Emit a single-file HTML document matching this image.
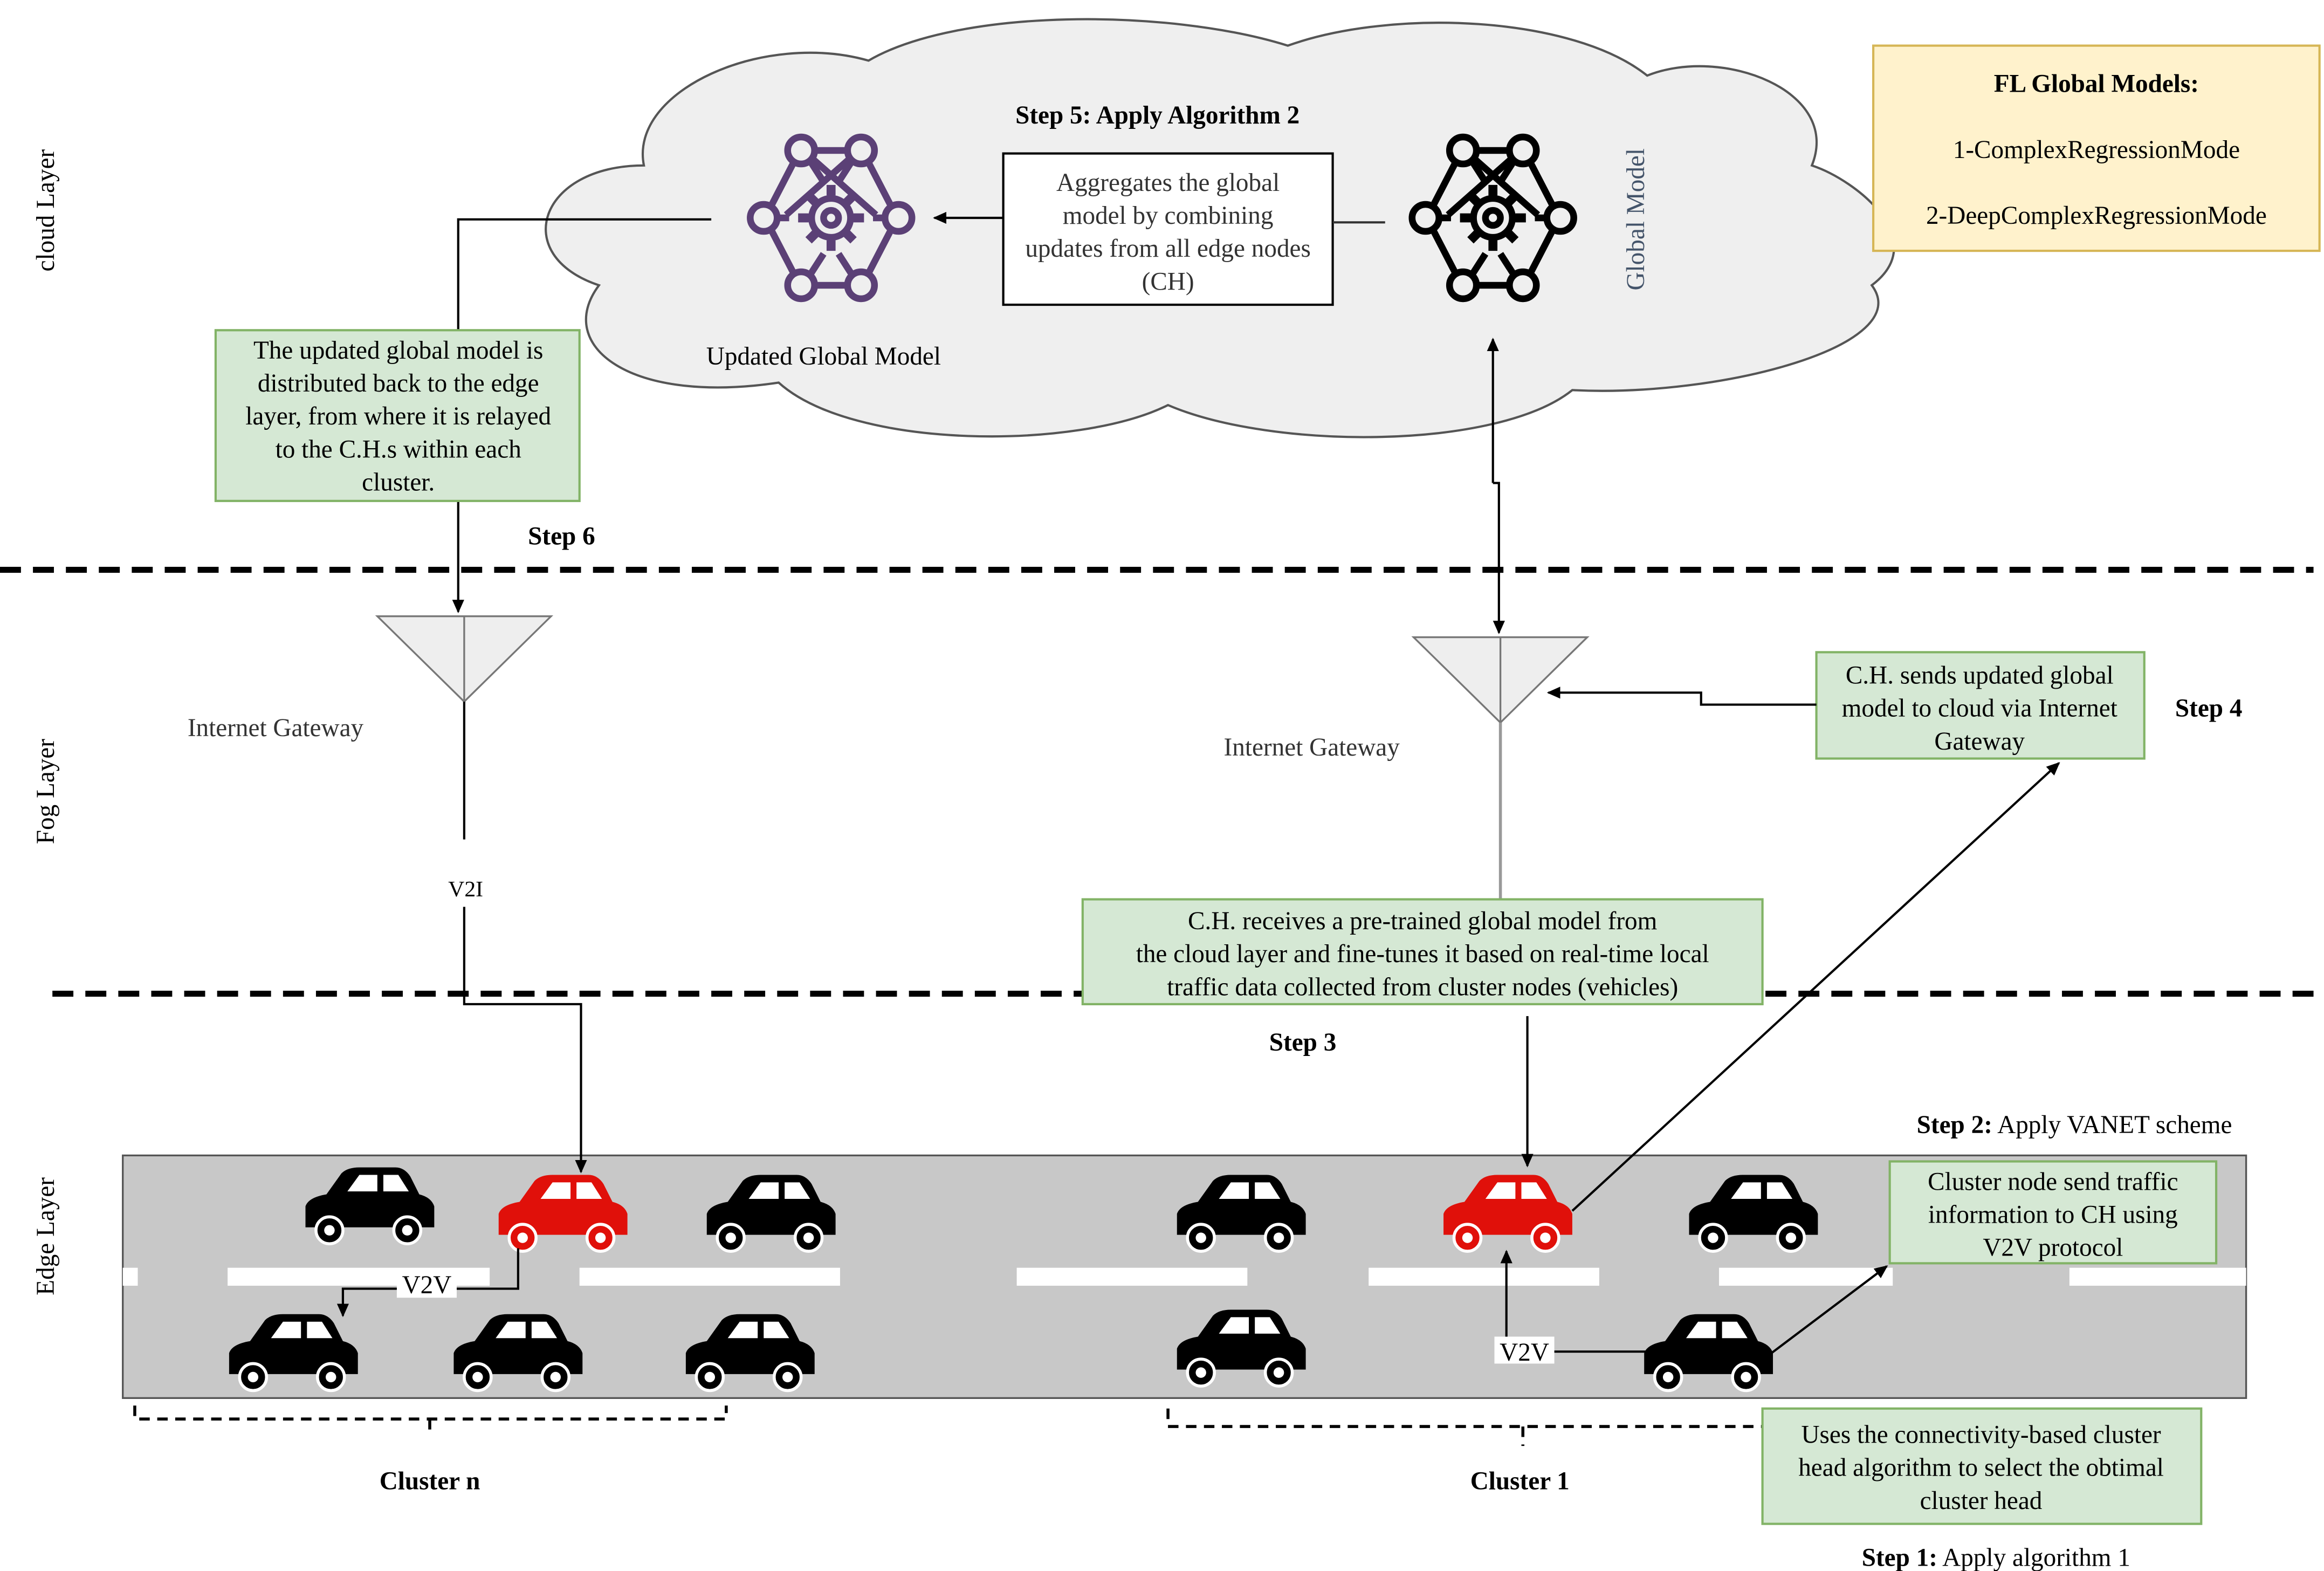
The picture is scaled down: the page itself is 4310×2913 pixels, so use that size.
<!DOCTYPE html>
<html><head><meta charset="utf-8"><style>
html,body{margin:0;padding:0;background:#fff;}
svg{display:block;}
text{font-family:"Liberation Serif",serif;}
</style></head><body>
<svg width="4310" height="2913" viewBox="0 0 1552 1048" xmlns="http://www.w3.org/2000/svg">
<defs>
<marker id="ar" markerWidth="10" markerHeight="10" refX="8" refY="5" orient="auto" markerUnits="userSpaceOnUse">
<path d="M0,1 L9,5 L0,9 Z" fill="#000"/></marker>
<g id="car">
<path d="M-42,14 L-42,0 Q-40,-6 -28,-8 L-18,-22 Q-14,-26 -6,-26 L18,-26 Q24,-26 28,-20 L34,-8 Q42,-6 44,0 L44,14 Z" fill="currentColor"/>
<path d="M-14,-10 L-6,-21 L6,-21 L6,-10 Z M10,-10 L10,-21 L20,-21 L27,-10 Z" fill="#fff"/>
<circle cx="-26" cy="16" r="9" fill="currentColor" stroke="#fff" stroke-width="2"/>
<circle cx="-26" cy="16" r="3.5" fill="#fff"/>
<circle cx="26" cy="16" r="9" fill="currentColor" stroke="#fff" stroke-width="2"/>
<circle cx="26" cy="16" r="3.5" fill="#fff"/>
</g>
<g id="net" fill="none" stroke-width="4.5">
<circle cx="-20" cy="-45" r="9"/><circle cx="20" cy="-45" r="9"/>
<circle cx="-45" cy="0" r="9"/><circle cx="45" cy="0" r="9"/>
<circle cx="-20" cy="45" r="9"/><circle cx="20" cy="45" r="9"/>
<path d="M-11,-45 L11,-45 M-11,45 L11,45 M-25,-37 L-40,-8 M25,-37 L40,-8 M-25,37 L-40,8 M25,37 L40,8 M-36,0 L-28,0 M28,0 L36,0 M-14,-38 L-5,-24 M14,-38 L5,-24 M-14,38 L-5,24 M14,38 L5,24 M-13,-40 L30,-2 M13,-40 L-30,-2"/>
<circle cx="0" cy="0" r="13"/>
<path d="M0,-22 L0,-15 M0,15 L0,22 M-22,0 L-15,0 M15,0 L22,0 M-15,-15 L-10,-10 M15,15 L10,10 M-15,15 L-10,10 M15,-15 L10,-10" stroke-width="6"/>
<circle cx="0" cy="0" r="5"/>
</g>
</defs>

<!-- cloud -->
<path d="M430,110 C360,110 340,170 400,190 C370,230 420,270 520,255 C570,300 720,300 780,270 C850,300 1000,300 1050,260 C1150,265 1280,230 1250,190 C1290,160 1240,120 1210,110 C1230,60 1150,30 1100,50 C1050,10 930,5 860,30 C780,5 640,5 580,40 C510,20 420,60 430,110 Z" fill="#efefef" stroke="#555" stroke-width="1.5"/>

<text x="36" y="140" font-size="17" transform="rotate(-90 36 140)" text-anchor="middle">cloud Layer</text>
<text x="36" y="528" font-size="17" transform="rotate(-90 36 528)" text-anchor="middle">Fog Layer</text>
<text x="36" y="825" font-size="17" transform="rotate(-90 36 825)" text-anchor="middle">Edge Layer</text>

<!-- FL box -->
<rect x="1251" y="30" width="298" height="137" fill="#fff2cc" stroke="#d6b656" stroke-width="1.5"/>
<text x="1400" y="61" font-size="17" font-weight="bold" text-anchor="middle">FL Global Models:</text>
<text x="1400" y="105" font-size="17" text-anchor="middle">1-ComplexRegressionMode</text>
<text x="1400" y="149" font-size="17" text-anchor="middle">2-DeepComplexRegressionMode</text>

<text x="773" y="82" font-size="17" font-weight="bold" text-anchor="middle">Step 5: Apply Algorithm 2</text>
<rect x="670" y="102" width="220" height="101" fill="#fff" stroke="#000" stroke-width="1.5"/>
<g font-size="17" text-anchor="middle" fill="#333">
<text x="780" y="127">Aggregates the global</text>
<text x="780" y="149">model by combining</text>
<text x="780" y="171">updates from all edge nodes</text>
<text x="780" y="193">(CH)</text>
</g>
<line x1="890" y1="148" x2="925" y2="148" stroke="#333" stroke-width="1.5"/>
<line x1="670" y1="145" x2="624" y2="145" stroke="#000" stroke-width="1.5" marker-end="url(#ar)"/>

<use href="#net" x="555" y="145" stroke="#5b4076"/>
<use href="#net" x="997" y="145" stroke="#000" transform="translate(1994,0) scale(-1,1)"/>
<text x="1098" y="146" font-size="17" fill="#44546a" transform="rotate(-90 1098 146)" text-anchor="middle">Global Model</text>
<text x="550" y="243" font-size="17" text-anchor="middle">Updated Global Model</text>

<!-- road -->
<rect x="82" y="771" width="1418" height="162" fill="#c8c8c8" stroke="#555" stroke-width="1.2"/>
<g fill="#fff">
<rect x="82" y="846" width="10" height="12"/><rect x="152" y="846" width="175" height="12"/>
<rect x="387" y="846" width="174" height="12"/><rect x="679" y="846" width="154" height="12"/>
<rect x="914" y="846" width="154" height="12"/><rect x="1148" y="846" width="116" height="12"/>
<rect x="1382" y="846" width="118" height="12"/>
</g>
<g color="#000">
<use href="#car" x="246" y="805"/><use href="#car" x="514" y="810"/>
<use href="#car" x="828" y="810"/><use href="#car" x="1170" y="810"/>
<use href="#car" x="195" y="903"/><use href="#car" x="345" y="903"/>
<use href="#car" x="500" y="903"/><use href="#car" x="828" y="900"/>
<use href="#car" x="1140" y="903"/>
</g>
<g color="#e0100a">
<use href="#car" x="375" y="810"/><use href="#car" x="1006" y="810"/>
</g>

<!-- step 6 path -->
<polyline points="475,146 306,146 306,408" fill="none" stroke="#000" stroke-width="1.5" marker-end="url(#ar)"/>
<rect x="144" y="220" width="243" height="114" fill="#d5e8d4" stroke="#82b366" stroke-width="1.5"/>
<g font-size="17" text-anchor="middle">
<text x="266" y="239">The updated global model is</text>
<text x="266" y="261">distributed back to the edge</text>
<text x="266" y="283">layer, from where it is relayed</text>
<text x="266" y="305">to the C.H.s within each</text>
<text x="266" y="327">cluster.</text>
</g>
<text x="375" y="363" font-size="17" font-weight="bold" text-anchor="middle">Step 6</text>

<line x1="0" y1="380" x2="1545" y2="380" stroke="#000" stroke-width="4" stroke-dasharray="14,8"/>
<line x1="35" y1="663" x2="1545" y2="663" stroke="#000" stroke-width="4" stroke-dasharray="14,8"/>

<!-- gateways -->
<path d="M252,411 L368,411 L310,468 Z M310,411 L310,468" fill="#eee" stroke="#777" stroke-width="1.2"/>
<path d="M944,425 L1060,425 L1002,482 Z M1002,425 L1002,482" fill="#eee" stroke="#777" stroke-width="1.2"/>
<text x="184" y="491" font-size="17" text-anchor="middle" fill="#333">Internet Gateway</text>
<text x="876" y="504" font-size="17" text-anchor="middle" fill="#333">Internet Gateway</text>

<polyline points="310,468 310,560" fill="none" stroke="#000" stroke-width="1.5"/>
<text x="311" y="598" font-size="15" text-anchor="middle" font-family="Liberation Sans, sans-serif">V2I</text>
<polyline points="310,605 310,670 388,670 388,782" fill="none" stroke="#000" stroke-width="1.5" marker-end="url(#ar)"/>

<polyline points="997,322 997,226" fill="none" stroke="#000" stroke-width="1.5" marker-end="url(#ar)"/>
<polyline points="997,322 1001,322 1001,422" fill="none" stroke="#000" stroke-width="1.5" marker-end="url(#ar)"/>
<line x1="1002" y1="482" x2="1002" y2="600" stroke="#999" stroke-width="2"/>

<rect x="723" y="600" width="454" height="70" fill="#d5e8d4" stroke="#82b366" stroke-width="1.5"/>
<g font-size="17" text-anchor="middle">
<text x="950" y="620">C.H. receives a pre-trained global model from</text>
<text x="950" y="642">the cloud layer and fine-tunes it based on real-time local</text>
<text x="950" y="664">traffic data collected from cluster nodes (vehicles)</text>
</g>
<text x="870" y="701" font-size="17" font-weight="bold" text-anchor="middle">Step 3</text>
<polyline points="1020,678 1020,778" fill="none" stroke="#000" stroke-width="1.5" marker-end="url(#ar)"/>

<rect x="1213" y="435" width="219" height="71" fill="#d5e8d4" stroke="#82b366" stroke-width="1.5"/>
<g font-size="17" text-anchor="middle">
<text x="1322" y="456">C.H. sends updated global</text>
<text x="1322" y="478">model to cloud via Internet</text>
<text x="1322" y="500">Gateway</text>
</g>
<text x="1475" y="478" font-size="17" font-weight="bold" text-anchor="middle">Step 4</text>
<polyline points="1213,470 1136,470 1136,462 1034,462" fill="none" stroke="#000" stroke-width="1.5" marker-end="url(#ar)"/>
<line x1="1050" y1="808" x2="1375" y2="509" stroke="#000" stroke-width="1.5" marker-end="url(#ar)"/>

<text x="1280" y="756" font-size="17"><tspan font-weight="bold">Step 2:</tspan> Apply VANET scheme</text>

<rect x="1262" y="775" width="218" height="68" fill="#d5e8d4" stroke="#82b366" stroke-width="1.5"/>
<g font-size="17" text-anchor="middle">
<text x="1371" y="794">Cluster node send traffic</text>
<text x="1371" y="816">information to CH using</text>
<text x="1371" y="838">V2V protocol</text>
</g>
<line x1="1183" y1="903" x2="1260" y2="845" stroke="#000" stroke-width="1.5" marker-end="url(#ar)"/>

<!-- V2V left -->
<polyline points="346,833 346,860 229,860 229,878" fill="none" stroke="#000" stroke-width="1.5" marker-end="url(#ar)"/>
<rect x="265" y="848" width="40" height="18" fill="#fff"/>
<text x="285" y="863" font-size="17" text-anchor="middle">V2V</text>
<!-- V2V right -->
<polyline points="1100,902 1006,902 1006,835" fill="none" stroke="#000" stroke-width="1.5" marker-end="url(#ar)"/>
<rect x="998" y="892" width="40" height="18" fill="#fff"/>
<text x="1018" y="908" font-size="17" text-anchor="middle">V2V</text>

<!-- brackets -->
<path d="M90,938 L90,947 L485,947 L485,938 M287,947 L287,958" fill="none" stroke="#000" stroke-width="2" stroke-dasharray="7,5"/>
<path d="M780,940 L780,952 L1180,952 M1017,952 L1017,965" fill="none" stroke="#000" stroke-width="2" stroke-dasharray="7,5"/>
<text x="287" y="994" font-size="17" font-weight="bold" text-anchor="middle">Cluster n</text>
<text x="1015" y="994" font-size="17" font-weight="bold" text-anchor="middle">Cluster 1</text>

<rect x="1177" y="940" width="293" height="77" fill="#d5e8d4" stroke="#82b366" stroke-width="1.5"/>
<g font-size="17" text-anchor="middle">
<text x="1323" y="963">Uses the connectivity-based cluster</text>
<text x="1323" y="985">head algorithm to select the obtimal</text>
<text x="1323" y="1007">cluster head</text>
</g>
<text x="1333" y="1045" font-size="17" text-anchor="middle"><tspan font-weight="bold">Step 1:</tspan> Apply algorithm 1</text>
</svg>
</body></html>
